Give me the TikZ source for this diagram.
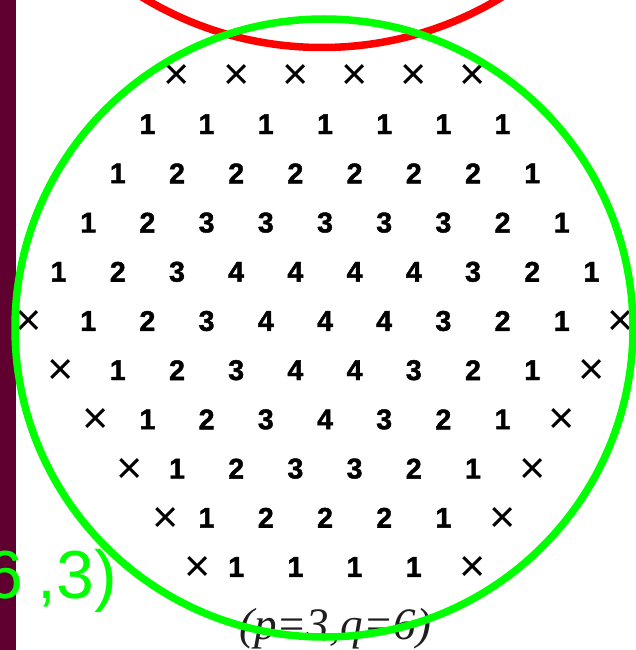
\documentclass[tikz,border=0pt]{standalone}
\usepackage{fontspec}
\setmainfont{Liberation Serif}
\newfontfamily\numfont{Liberation Sans}
\newfontfamily\heavyfont{Liberation Sans}[BoldFeatures={FakeBold=1.6}]
\definecolor{maroonbar}{RGB}{96,0,48}
\definecolor{hgreen}{RGB}{0,255,0}
\definecolor{hred}{RGB}{255,0,0}
\tikzset{
  num/.style={font=\heavyfont\bfseries\fontsize{28.5}{28.5}\selectfont, inner sep=0pt, anchor=center},
  crs/.style={font=\numfont\fontsize{45}{45}\selectfont, inner sep=0pt, anchor=center, yshift=-2pt},
  ring/.style={line width=7.5pt},
}
\newcommand\digrow[3]{%
  \foreach \lab [count=\i from 0] in {#3} {
    \pgfmathsetmacro\xx{325+29.6*(#2+2*\i)}
    \pgfmathsetmacro\yy{75+49.2*#1}
    \node[num] (d#1-\i) at (\xx,\yy) {\lab};
  }%
}
\newcommand\crossat[4]{%
  \pgfmathsetmacro\xx{325+29.6*(#2)+#3}
  \pgfmathsetmacro\yy{75+49.2*#1}
  \node[crs] (x#1-#4) at (\xx,\yy) {×};
}
\begin{document}
\begin{tikzpicture}[x=1pt,y=-1pt]
\useasboundingbox (0,0) rectangle (636,650);
\fill[white] (0,0) rectangle (636,650);
\fill[maroonbar] (0,0) rectangle (15.5,650);
\draw[hred, ring] (322,-298.5) circle[radius=346pt];
\node[font=\itshape\fontsize{45}{45}\selectfont, text=black!88, inner sep=0pt, anchor=base] (pq) at (335,639) {(p=3,q=6)};
% row 0
\foreach \c [count=\k] in {-5,-3,-1,1,3,5} { \crossat{0}{\c}{0}{\k} }
% rows 1-4
\digrow{1}{-6}{1,1,1,1,1,1,1}
\digrow{2}{-7}{1,2,2,2,2,2,2,1}
\digrow{3}{-8}{1,2,3,3,3,3,3,2,1}
\digrow{4}{-9}{1,2,3,4,4,4,4,3,2,1}
% rows 5-10
\crossat{5}{-10}{0}{l}\crossat{5}{10}{0}{r}
\digrow{5}{-8}{1,2,3,4,4,4,3,2,1}
\crossat{6}{-9}{2}{l}\crossat{6}{9}{0}{r}
\digrow{6}{-7}{1,2,3,4,4,3,2,1}
\crossat{7}{-8}{7}{l}\crossat{7}{8}{0}{r}
\digrow{7}{-6}{1,2,3,4,3,2,1}
\crossat{8}{-7}{12}{l}\crossat{8}{7}{0}{r}
\digrow{8}{-5}{1,2,3,3,2,1}
\crossat{9}{-6}{18}{l}\crossat{9}{6}{0}{r}
\digrow{9}{-4}{1,2,2,2,1}
\crossat{10}{-5}{21}{l}\crossat{10}{5}{0}{r}
\digrow{10}{-3}{1,1,1,1}
% green ring and handwriting
\draw[hgreen, ring] (324,328) circle[radius=309pt];
\node[font=\numfont\fontsize{68}{68}\selectfont, text=hgreen, inner sep=0pt, anchor=base east] (lbl) at (117,598) {6\kern14pt,3)};
\end{tikzpicture}
\end{document}
